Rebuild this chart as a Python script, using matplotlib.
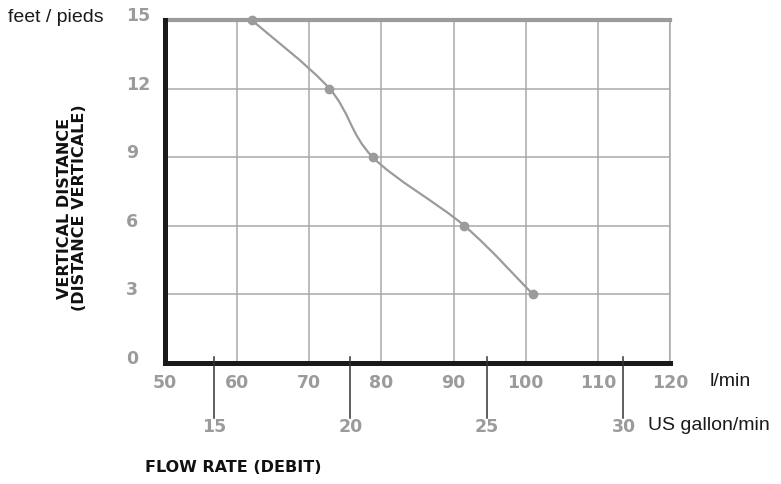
import numpy as np
import matplotlib
matplotlib.use('Agg')
import matplotlib.pyplot as plt
from matplotlib.path import Path
from matplotlib.patches import PathPatch
from matplotlib.transforms import ScaledTranslation

# data
flow_lpm = [62, 72.8, 78.8, 91.5, 101]
height_ft = [15, 12, 9, 6, 3]
x_ticks = [50, 60, 70, 80, 90, 100, 110, 120]
y_ticks = [0, 3, 6, 9, 12, 15]
gal_ticks = [15, 20, 25, 30]
LITRES_PER_GAL = 3.785

grey = '#9b9b9b'
grid_grey = '#a9a9a9'
num_font = dict(color=grey, fontweight='bold', fontsize=12.5, family='DejaVu Sans')

fig = plt.figure(figsize=(7.81, 4.84), dpi=100)
ax = fig.add_axes([165 / 781, 121 / 484, 505 / 781, 343 / 484])
ax.set_xlim(50, 120)
ax.set_ylim(0, 15)

# grid
ax.set_xticks(x_ticks)
ax.set_yticks(y_ticks)
ax.grid(True, color=grid_grey, lw=1.1)
ax.tick_params(length=0)

for s in ['left', 'bottom']:
    ax.spines[s].set_color('#1a1a1a')
    ax.spines[s].set_linewidth(3.6)
    ax.spines[s].set_zorder(5)
ax.spines['top'].set_color(grey)
ax.spines['top'].set_linewidth(3)
ax.spines['right'].set_color(grid_grey)
ax.spines['right'].set_linewidth(1.1)

# tick labels
ax.set_xticklabels([str(v) for v in x_ticks], **num_font)
ax.tick_params(axis='x', pad=8)
ax.set_yticklabels([str(v) for v in y_ticks], ha='left', **num_font)
ax.tick_params(axis='y', pad=28)
for lab in ax.get_yticklabels():
    lab.set_transform(lab.get_transform() + ScaledTranslation(0, 6 / 100, fig.dpi_scale_trans))

# smooth curve through points (Catmull-Rom as bezier)
pts = np.column_stack([flow_lpm, height_ft])
ext = np.vstack([pts[0], pts, pts[-1]])
verts = [tuple(pts[0])]
codes = [Path.MOVETO]
for i in range(1, len(ext) - 2):
    p0, p1, p2, p3 = ext[i - 1], ext[i], ext[i + 1], ext[i + 2]
    c1 = p1 + (p2 - p0) / 6
    c2 = p2 - (p3 - p1) / 6
    verts += [tuple(c1), tuple(c2), tuple(p2)]
    codes += [Path.CURVE4] * 3
ax.add_patch(PathPatch(Path(verts, codes), fill=False, edgecolor=grey, lw=1.6,
                       zorder=4, clip_on=False))
ax.plot(flow_lpm, height_ft, 'o', color=grey, ms=6, zorder=6, clip_on=False)

# US gallon scale
trans = ax.get_xaxis_transform()
for g in gal_ticks:
    xl = g * LITRES_PER_GAL
    ax.plot([xl, xl], [6 / 343, -55 / 343], color='#333333', lw=1.1,
            transform=trans, clip_on=False, zorder=6)
    ax.text(xl, -64 / 343, str(g), transform=trans, ha='center', va='center',
            **num_font)

# unit labels and titles
fig.text(710 / 781, 1 - 382 / 484, 'l/min', fontsize=14, family='Liberation Sans',
         va='center', ha='left', color='#1a1a1a')
fig.text(648 / 781, 1 - 426 / 484, 'US gallon/min', fontsize=14,
         family='Liberation Sans', va='center', ha='left', color='#1a1a1a')
fig.text(8 / 781, 1 - 18 / 484, 'feet / pieds', fontsize=14,
         family='Liberation Sans', va='center', ha='left', color='#1a1a1a')
fig.text(145 / 781, 1 - 468 / 484, 'FLOW RATE (DEBIT)', fontsize=11.5,
         family='DejaVu Sans', fontweight='bold', va='center', ha='left',
         color='#111111')
fig.text(72 / 781, 1 - 208 / 484, 'VERTICAL DISTANCE\n(DISTANCE VERTICALE)',
         fontsize=11.5, family='DejaVu Sans', fontweight='bold', rotation=90,
         va='center', ha='center', multialignment='center', color='#111111',
         linespacing=1.0)

fig.savefig('out.png', dpi=100)
